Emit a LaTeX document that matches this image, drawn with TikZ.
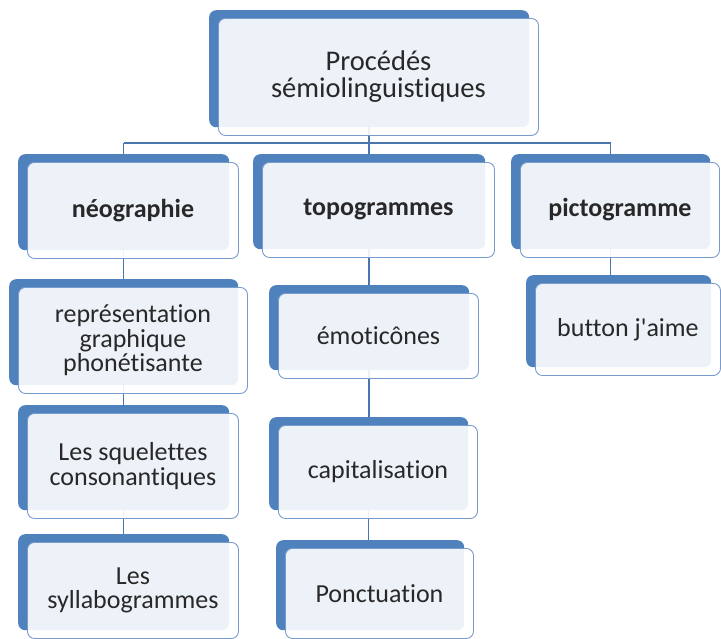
\documentclass[tikz,border=0pt]{standalone}
\usepackage{fontspec}
\setmainfont{Carlito}[Ligatures={NoCommon}]
\usetikzlibrary{backgrounds}
\definecolor{bblue}{RGB}{79,129,189}
\definecolor{lineblue}{RGB}{74,118,176}
\definecolor{edgeblue}{RGB}{120,155,205}
\definecolor{txt}{RGB}{40,40,40}
\newcommand\smbox[7]{%
  \node[backbox, minimum width=#4pt, minimum height=#5pt] (#1b) at (#2-9,#3-8) {};
  \node[frontbox, minimum width=#4pt, minimum height=#5pt, font=#6] (#1) at (#2,#3) {#7};}
\begin{document}
\begin{tikzpicture}[x=1pt,y=-1pt,
  backbox/.style={fill=bblue, draw=none, rounded corners=7pt, anchor=north west, inner sep=0pt},
  frontbox/.style={fill=white, fill opacity=0.9, text opacity=1, draw=edgeblue, line width=0.9pt,
    rounded corners=7pt, anchor=north west, inner sep=2pt, align=center, text=txt},
  conn/.style={draw=lineblue, line width=1.5pt}]
\useasboundingbox (0,0) rectangle (721,638);
\clip (0,0) rectangle (721,638);
\def\rootf{\fontsize{28.5}{27}\selectfont}
\def\lvlf{\fontsize{26}{25}\selectfont\bfseries}
\def\itf{\fontsize{26}{24.5}\selectfont}
\smbox{root}{218}{18}{320}{117}{\rootf}{Procédés\\sémiolinguistiques}
\smbox{neo}{27}{162}{211}{96}{\lvlf}{néographie}
\smbox{topo}{262}{162}{232}{95}{\lvlf}{topogrammes}
\smbox{picto}{520}{162}{199}{95}{\lvlf}{pictogramme}
\smbox{repr}{18}{287}{229}{106}{\itf}{représentation\\graphique\\phonétisante}
\smbox{squel}{27}{413}{211}{105}{\itf}{Les squelettes\\consonantiques}
\smbox{sylla}{27}{542}{211}{96}{\itf}{Les\\syllabogrammes}
\smbox{emot}{278}{293}{200}{85}{\itf}{émoticônes}
\smbox{capi}{278}{425}{199}{93}{\itf}{capitalisation}
\smbox{ponct}{285}{548}{188}{90}{\itf}{Ponctuation}
\smbox{button}{535}{283}{185}{92}{\itf}{button j\textquotesingle aime}
\coordinate (busy) at (0,143);
\begin{scope}[on background layer]
\draw[conn] (rootb.south) -- (rootb.south |- busy);
\draw[conn] (neob.north |- busy) -- (pictob.north |- busy);
\draw[conn] (neob.north |- busy) -- (neob.north);
\draw[conn] (topob.north |- busy) -- (topob.north);
\draw[conn] (pictob.north |- busy) -- (pictob.north);
\draw[conn] (neob.south) -- (neob.south |- reprb.north);
\draw[conn] (reprb.south) -- (reprb.south |- squelb.north);
\draw[conn] (squelb.south) -- (squelb.south |- syllab.north);
\draw[conn] (topob.south) -- (topob.south |- emotb.north);
\draw[conn] (emotb.south) -- (emotb.south |- capib.north);
\draw[conn] (capib.south) -- (capib.south |- ponctb.north);
\draw[conn] (pictob.south) -- (pictob.south |- buttonb.north);
\end{scope}
\end{tikzpicture}
\end{document}
